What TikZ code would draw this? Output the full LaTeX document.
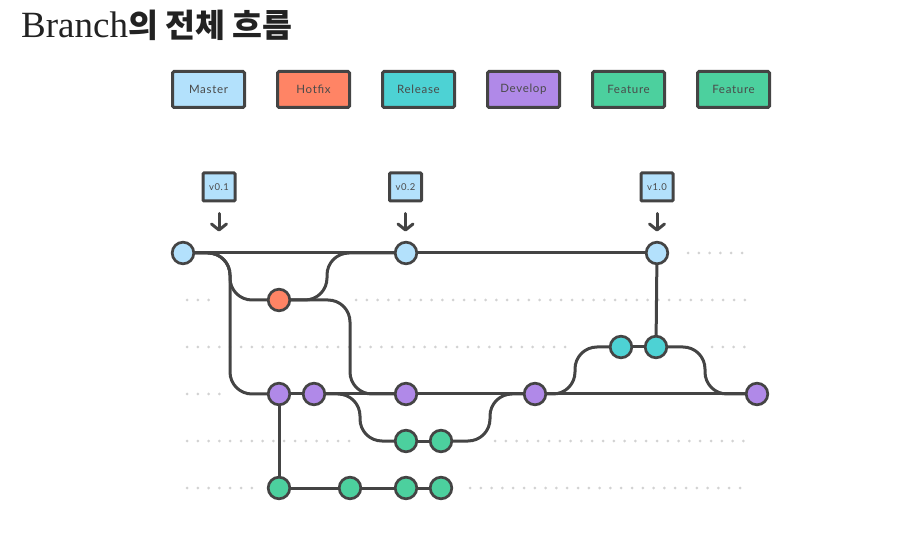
\documentclass[tikz,border=0pt]{standalone}
\usepackage{fontspec}
\setmainfont{Liberation Serif}
\newfontfamily\krfont{Noto Sans CJK KR}
\newfontfamily\lblfont[LetterSpace=6]{Lato}
\usetikzlibrary{arrows.meta}
\definecolor{ink}{HTML}{444444}
\definecolor{lblink}{HTML}{4A4A4A}
\definecolor{titleink}{HTML}{222222}
\definecolor{cmaster}{HTML}{B3E1FC}
\definecolor{chotfix}{HTML}{FF8465}
\definecolor{crelease}{HTML}{4DD2D4}
\definecolor{cdevelop}{HTML}{B089E8}
\definecolor{cfeature}{HTML}{4CD09E}
\definecolor{cdot}{HTML}{D2D2D2}
\pgfdeclarelayer{bg}
\pgfsetlayers{bg,main}
\begin{document}
\begin{tikzpicture}[x=1pt,y=-1pt,
  legend/.style={draw=ink, line width=3pt, rounded corners=1.5pt, minimum width=72pt, minimum height=36pt, inner sep=0pt, font=\lblfont\fontsize{11.5}{13}\selectfont, text=lblink},
  tagbox/.style={draw=ink, line width=3pt, rounded corners=1pt, fill=cmaster, minimum width=32pt, minimum height=28pt, inner sep=0pt, font=\lblfont\fontsize{9.5}{11}\selectfont, text=lblink},
  commit/.style={circle, draw=ink, line width=2.7pt, minimum size=21.6pt, inner sep=0pt},
  wire/.style={draw=ink, line width=3pt, rounded corners=22pt},
  dotrow/.style={draw=cdot, line width=3pt, line cap=round, dash pattern=on 0pt off 10.8pt},
  tagarrow/.style={draw=ink, line width=3pt, line cap=round, -{Straight Barb[length=6pt,width=15pt,line cap=round,line join=round]}},
]
\useasboundingbox (0,0) rectangle (898,548);

% title
\node[anchor=base west, inner sep=0pt, text=titleink] (title) at (21,38)
  {\fontsize{37}{42}\selectfont Branch{\krfont\bfseries\fontsize{32.5}{36}\selectfont 의 전체 흐름}};

% legend
\node[legend, fill=cmaster]  (lmaster)  at (208.5,89.5) {Master};
\node[legend, fill=chotfix]  (lhotfix)  at (313.5,89.5) {Hotfix};
\node[legend, fill=crelease] (lrelease) at (418.5,89.5) {Release};
\node[legend, fill=cdevelop] (ldevelop) at (523.5,89.5) {Develop};
\node[legend, fill=cfeature] (lfeatA)   at (628.5,89.5) {Feature};
\node[legend, fill=cfeature] (lfeatB)   at (733.5,89.5) {Feature};

% tags
\node[tagbox] (t1) at (219,187) {v0.1};
\node[tagbox] (t2) at (405.5,187) {v0.2};
\node[tagbox] (t3) at (657,187) {v1.0};
\draw[tagarrow] ([yshift=-11pt]t1.south) -- ++(0,18);
\draw[tagarrow] ([yshift=-11pt]t2.south) -- ++(0,18);
\draw[tagarrow] ([yshift=-11pt]t3.south) -- ++(0,18);

% commits
\node[commit, fill=cmaster] (m1) at (183,253) {};
\node[commit, fill=cmaster] (m2) at (406,253) {};
\node[commit, fill=cmaster] (m3) at (657,253) {};
\node[commit, fill=chotfix] (h1) at (279,300) {};
\node[commit, fill=crelease] (r1) at (621,347) {};
\node[commit, fill=crelease] (r2) at (656,347) {};
\node[commit, fill=cdevelop] (d1) at (279,394) {};
\node[commit, fill=cdevelop] (d2) at (314,394) {};
\node[commit, fill=cdevelop] (d3) at (406,394) {};
\node[commit, fill=cdevelop] (d4) at (535,394) {};
\node[commit, fill=cdevelop] (d5) at (757,394) {};
\node[commit, fill=cfeature] (f1a) at (406,441) {};
\node[commit, fill=cfeature] (f1b) at (441,441) {};
\node[commit, fill=cfeature] (f2a) at (279,488) {};
\node[commit, fill=cfeature] (f2b) at (350,488) {};
\node[commit, fill=cfeature] (f2c) at (406,488) {};
\node[commit, fill=cfeature] (f2d) at (441,488) {};

\begin{pgfonlayer}{bg}
% dotted guides
\draw[dotrow] (688,253) -- (747,253);
\draw[dotrow] (187,300) -- (210,300);
\draw[dotrow] (356,300) -- (747,300);
\draw[dotrow] (187,347) -- (569,347);
\draw[dotrow] (712,347) -- (747,347);
\draw[dotrow] (187,394) -- (220,394);
\draw[dotrow] (187,441) -- (356,441);
\draw[dotrow] (495,441) -- (747,441);
\draw[dotrow] (187,488) -- (252,488);
\draw[dotrow] (470,488) -- (747,488);

% connectors
\draw[wire] (m1) -- (m2);
\draw[wire] (m2) -- (m3);
\draw[wire] (m1) -- (230,253) -- (230,394) -- (d1);
\draw[wire] (m1) -- (230,253) -- (230,300) -- (h1);
\draw[wire] (h1) -- (327,300) -- (327,253) -- (m2);
\draw[wire] (h1) -- (350,300) -- (350,394) -- (d3);
\draw[wire] (d1) -- (d2);
\draw[wire] (d2) -- (d3);
\draw[wire] (d3) -- (d4);
\draw[wire] (d4) -- (d5);
\draw[wire] (d1) -- (f2a);
\draw[wire] (f2a) -- (f2b);
\draw[wire] (f2b) -- (f2c);
\draw[wire] (f2c) -- (f2d);
\draw[wire] (d2) -- (360,394) -- (360,441) -- (f1a);
\draw[wire] (f1a) -- (f1b);
\draw[wire] (f1b) -- (490,441) -- (490,394) -- (d4);
\draw[wire] (d4) -- (575,394) -- (575,347) -- (r1);
\draw[wire] (r1) -- (r2);
\draw[wire] (r2) -- (m3);
\draw[wire] (r2) -- (705,347) -- (705,394) -- (d5);
\end{pgfonlayer}
\end{tikzpicture}
\end{document}
